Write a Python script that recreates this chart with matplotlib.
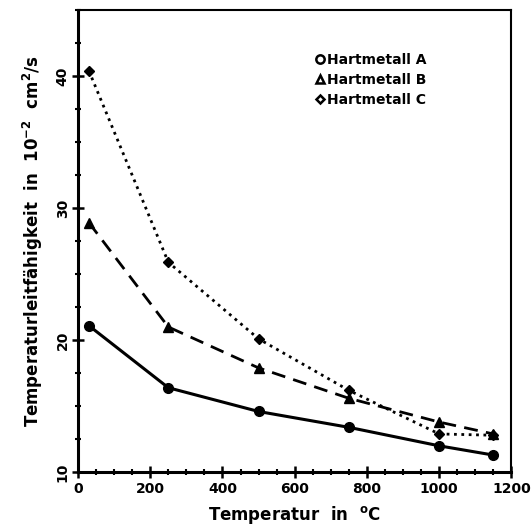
import matplotlib
matplotlib.use('Agg')
from matplotlib import pyplot as plt
from matplotlib.ticker import MultipleLocator
from matplotlib.lines import Line2D

temps = [30, 250, 500, 750, 1000, 1150]
hm_a = [21.1, 16.4, 14.6, 13.4, 12.0, 11.3]
hm_b = [28.9, 21.0, 17.9, 15.6, 13.8, 12.9]
hm_c = [40.4, 25.9, 20.1, 16.2, 12.9, 12.8]
labels = ['Hartmetall A', 'Hartmetall B', 'Hartmetall C']

plt.rcParams['font.family'] = ['DejaVu Sans']
plt.rcParams['font.weight'] = 'bold'

fig = plt.figure(figsize=(5.31, 5.30), dpi=100)
ax = fig.add_axes([0.147, 0.109, 0.816, 0.872])

ax.plot(temps, hm_a, '-', color='black', lw=2.2, marker='o', ms=7, mfc='black')
ax.plot(temps, hm_b, '--', color='black', lw=2.0, dashes=(5, 3), marker='^', ms=7, mfc='black')
ax.plot(temps, hm_c, ':', color='black', lw=2.0, marker='D', ms=5, mfc='black')

ax.set_xlim(0, 1200)
ax.set_ylim(10, 45)
ax.xaxis.set_major_locator(MultipleLocator(200))
ax.xaxis.set_minor_locator(MultipleLocator(50))
ax.yaxis.set_major_locator(MultipleLocator(10))
ax.yaxis.set_minor_locator(MultipleLocator(2.5))
ax.tick_params(which='major', direction='inout', length=8, width=1.8, labelsize=10)
ax.tick_params(which='minor', direction='inout', length=4, width=1.5)
ax.tick_params(axis='x', pad=3)
ax.tick_params(axis='y', labelrotation=90, pad=2)
for lab in ax.get_yticklabels():
    lab.set_verticalalignment('center')

for side in ['left', 'bottom']:
    ax.spines[side].set_linewidth(2.2)
for side in ['top', 'right']:
    ax.spines[side].set_linewidth(1.5)

ax.set_xlabel('Temperatur  in  $\\mathbf{^oC}$', fontsize=12, fontweight='bold', labelpad=6)
ax.set_ylabel('Temperaturleitfähigkeit  in  10$^{\\mathbf{-2}}$  cm$^{\\mathbf{2}}$/s',
              fontsize=12, fontweight='bold', labelpad=8)

handles = [Line2D([], [], ls='none', marker='o', color='black', mfc='white', mew=1.8, ms=6),
           Line2D([], [], ls='none', marker='^', color='black', mfc='white', mew=1.8, ms=6),
           Line2D([], [], ls='none', marker='D', color='black', mfc='white', mew=1.8, ms=4.5)]
ax.legend(handles, labels, loc='upper left', bbox_to_anchor=(0.52, 0.935), frameon=False,
          handlelength=0.6, handletextpad=0.2, labelspacing=0.45, prop={'weight': 'bold', 'size': 10})

plt.savefig('out.png', dpi=100)
plt.close()
